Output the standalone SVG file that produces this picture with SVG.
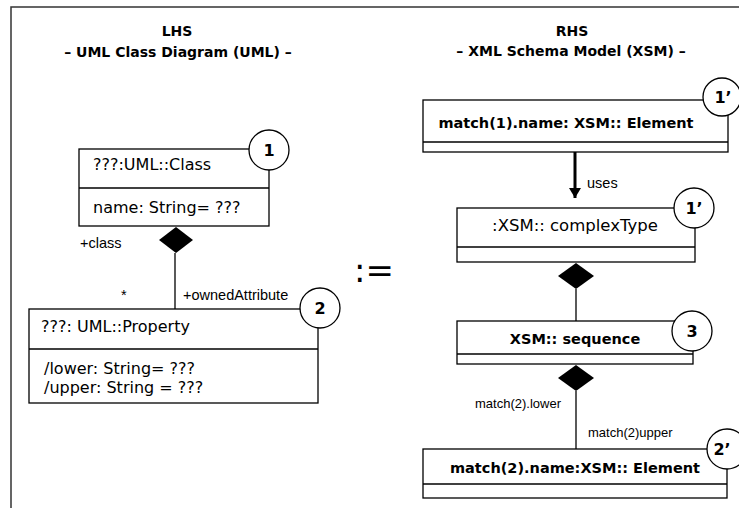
<svg xmlns="http://www.w3.org/2000/svg" width="739" height="508" viewBox="0 0 739 508">
<defs>
<style>
.frame{fill:none;stroke:#333;stroke-width:1.5}
.box{fill:#fff;stroke:#000;stroke-width:1.3}
.div{stroke:#000;stroke-width:1.3}
.conn{stroke:#000;stroke-width:1.3;fill:none}
.dia{fill:#000;stroke:none}
.tag{fill:#fff;stroke:#000;stroke-width:1.3}
.title{font-family:"DejaVu Sans",sans-serif;font-weight:bold;font-size:14px;fill:#000;text-anchor:middle}
.lt{font-family:"DejaVu Sans",sans-serif;font-size:16px;fill:#000}
.rt{font-family:"DejaVu Sans",sans-serif;font-size:14.5px;font-weight:bold;fill:#000;text-anchor:middle}
.rn{font-family:"DejaVu Sans",sans-serif;font-size:16.5px;fill:#000;text-anchor:middle}
.num{font-family:"DejaVu Sans",sans-serif;font-size:16px;font-weight:bold;fill:#000;text-anchor:middle}
.lbl{font-family:"Liberation Sans",Arial,sans-serif;font-size:14.5px;fill:#000}
.sm{font-family:"Liberation Sans",Arial,sans-serif;font-size:13px;fill:#000}
</style>
<marker id="arr" markerWidth="14" markerHeight="12" refX="10" refY="6" orient="auto" markerUnits="userSpaceOnUse">
<path d="M0,0 L10,6 L0,12 Z" fill="#000"/>
</marker>
</defs>
<rect width="739" height="508" fill="#fff"/>
<path class="frame" d="M11,508 L11,7 L739,7"/>

<g id="titles">
<text class="title" x="177" y="36">LHS</text>
<text class="title" x="178" y="57">– UML Class Diagram (UML) –</text>
<text class="title" x="572" y="36">RHS</text>
<text class="title" x="571" y="56">– XML Schema Model (XSM) –</text>
<text x="354" y="282" font-family="DejaVu Sans,sans-serif" font-size="34" fill="#000">:=</text>
</g>

<g id="connectors">
<line class="conn" x1="175" y1="253" x2="175" y2="309"/>
<path class="dia" d="M176,227 L193,240 L176,253 L159,240 Z"/>
<line x1="575" y1="152" x2="575" y2="198" stroke="#000" stroke-width="3" marker-end="url(#arr)"/>
<line class="conn" x1="576" y1="289" x2="576" y2="321"/>
<path class="dia" d="M576,263 L594,276 L576,289 L558,276 Z"/>
<line class="conn" x1="576" y1="391" x2="576" y2="449"/>
<path class="dia" d="M576,365 L594,378 L576,391 L558,378 Z"/>
<text class="lbl" x="80" y="248">+class</text>
<text class="lbl" x="121" y="300">*</text>
<text class="lbl" x="183" y="300">+ownedAttribute</text>
<text class="lbl" x="587" y="188" font-size="16">uses</text>
<text class="sm" x="475" y="408">match(2).lower</text>
<text class="sm" x="588" y="437">match(2)upper</text>
</g>

<g id="node-class">
<rect class="box" x="79" y="149" width="190" height="77"/>
<line class="div" x1="79" y1="188" x2="269" y2="188"/>
<text class="lt" x="93" y="170">???:UML::Class</text>
<text class="lt" x="93" y="213">name: String= ???</text>
<circle class="tag" cx="269" cy="150" r="20"/>
<text class="num" x="269" y="156">1</text>
</g>

<g id="node-property">
<rect class="box" x="29" y="309" width="289" height="94"/>
<line class="div" x1="29" y1="349" x2="318" y2="349"/>
<text class="lt" x="41" y="332">???: UML::Property</text>
<text class="lt" x="44" y="374">/lower: String= ???</text>
<text class="lt" x="44" y="393">/upper: String = ???</text>
<circle class="tag" cx="320" cy="308" r="20"/>
<text class="num" x="320" y="314">2</text>
</g>

<g id="node-element1">
<rect class="box" x="423" y="100" width="305" height="52"/>
<line class="div" x1="423" y1="142" x2="728" y2="142"/>
<text class="rt" x="566" y="128">match(1).name: XSM:: Element</text>
<circle class="tag" cx="722" cy="97" r="19"/>
<text class="num" x="723" y="103">1’</text>
</g>

<g id="node-complextype">
<rect class="box" x="457" y="208" width="238" height="54"/>
<line class="div" x1="457" y1="247" x2="695" y2="247"/>
<text class="rn" x="575" y="231">:XSM:: complexType</text>
<circle class="tag" cx="694" cy="208" r="20"/>
<text class="num" x="694" y="214">1’</text>
</g>

<g id="node-sequence">
<rect class="box" x="457" y="321" width="236" height="43"/>
<line class="div" x1="457" y1="354" x2="693" y2="354"/>
<text class="rt" x="575" y="344" font-size="13.5">XSM:: sequence</text>
<circle class="tag" cx="692" cy="331" r="20"/>
<text class="num" x="692" y="337">3</text>
</g>

<g id="node-element2">
<rect class="box" x="423" y="449" width="304" height="49"/>
<line class="div" x1="423" y1="484" x2="727" y2="484"/>
<text class="rt" x="575" y="473">match(2).name:XSM:: Element</text>
<circle class="tag" cx="727" cy="449" r="20"/>
<text class="num" x="722" y="455">2’</text>
</g>
</svg>
